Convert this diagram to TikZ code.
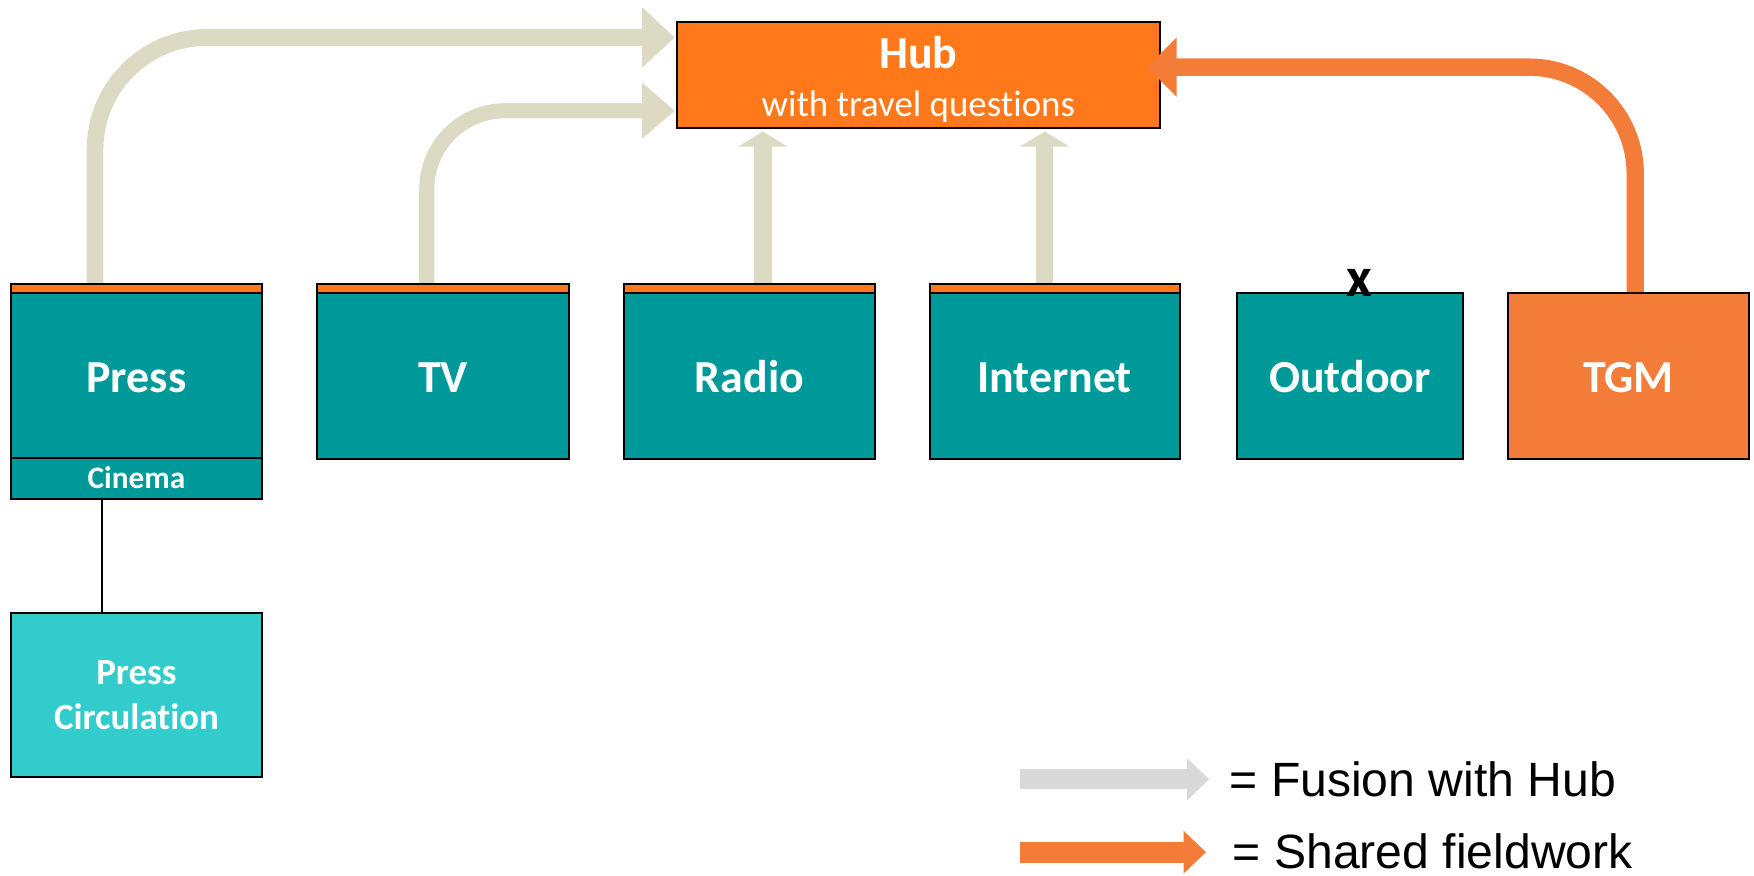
\documentclass[tikz,border=0pt]{standalone}
\usepackage{fontspec}
\setmainfont{Carlito}[Ligatures=NoCommon]
\newfontfamily\legendfont{Liberation Sans}[Ligatures=NoCommon]
\usetikzlibrary{backgrounds,calc}
\definecolor{tealbox}{RGB}{0,153,153}
\definecolor{teallight}{RGB}{51,204,204}
\definecolor{huborange}{RGB}{255,121,26}
\definecolor{tgmorange}{RGB}{242,124,56}
\definecolor{fusebeige}{RGB}{221,218,196}
\definecolor{legendgray}{RGB}{217,217,217}
\tikzset{
  boxbase/.style={draw=black, line width=1.8pt, fill=tealbox, text=white, inner sep=0pt},
  mbox/.style={boxbase, font=\bfseries\fontsize{41}{48}\selectfont, text height=30pt, text depth=0pt},
  stripbox/.style={draw=black, line width=1.8pt, fill=huborange, minimum height=8pt, inner sep=0pt},
  legendtext/.style={anchor=base west, inner sep=0pt, font=\legendfont\fontsize{43}{50}\selectfont},
}
\begin{document}
\begin{tikzpicture}[x=1pt,y=-1pt]
\useasboundingbox (0,0) rectangle (1568,783);

% media boxes
\node[mbox, minimum width=224pt, minimum height=147pt] (press) at (122,335.5) {Press};
\node[stripbox, minimum width=224pt] (pstrip) at (122,258) {};
\node[boxbase, minimum width=224pt, minimum height=37pt, font=\bfseries\fontsize{28}{32}\selectfont, text height=19pt, text depth=0pt] (cinema) at (122,427.5) {Cinema};
\node[boxbase, fill=teallight, minimum width=224pt, minimum height=147pt, align=center, font=\bfseries\fontsize{33}{39.6}\selectfont] (circ) at (122,621.5) {Press\\Circulation};

\node[mbox, minimum width=224.8pt, minimum height=148.5pt] (tv) at (396,336.25) {TV};
\node[stripbox, minimum width=224.8pt] (tvstrip) at (396,258) {};
\node[mbox, minimum width=224pt, minimum height=148.5pt] (radio) at (670,336.25) {Radio};
\node[stripbox, minimum width=224pt] (radiostrip) at (670,258) {};
\node[mbox, minimum width=223.5pt, minimum height=148.5pt] (internet) at (942.8,336.25) {Internet};
\node[stripbox, minimum width=223.5pt] (internetstrip) at (942.8,258) {};
\node[mbox, minimum width=201.5pt, minimum height=148.5pt] (outdoor) at (1206.8,336.25) {Outdoor};
\node[mbox, fill=tgmorange, minimum width=215.5pt, minimum height=148.5pt] (tgm) at (1455.8,336.25) {TGM};

% hub
\node[draw=black, line width=1.8pt, fill=huborange, minimum width=432pt, minimum height=95.3pt, inner sep=0pt] (hub) at (821,67) {};
\node[anchor=base, text=white, inner sep=0pt, font=\bfseries\fontsize{41}{48}\selectfont] (hubtitle) at (821,61) {Hub};
\node[anchor=base, text=white, inner sep=0pt, font=\fontsize{33}{38}\selectfont] (hubsub) at (821,104.3) {with travel questions};

% x mark
\node[anchor=base, inner sep=0pt, font=\bfseries\fontsize{50}{54}\selectfont] (xmark) at (1215,265.5) {x};

% press -> circulation
\draw[line width=1.3pt] ([xshift=-31pt]cinema.south) -- ([xshift=-31pt]circ.north);

% fusion arrows
\begin{scope}[on background layer]
\coordinate (a1s) at ([xshift=-37pt]pstrip.north);
\coordinate (a1t) at ([xshift=-1pt,yshift=33.5pt]hub.west);
\draw[fusebeige, line width=15pt, rounded corners=100pt] (a1s) |- ($(a1t)+(-28,0)$);
\fill[fusebeige] (a1t) -- ++(-29pt,27pt) -- ++(0pt,-54pt) -- cycle;

\coordinate (a2s) at ([xshift=-14.5pt]tvstrip.north);
\coordinate (a2t) at ([xshift=-1pt,yshift=-32pt]hub.west);
\draw[fusebeige, line width=13.5pt, rounded corners=70pt] (a2s) |- ($(a2t)+(-28,0)$);
\fill[fusebeige] (a2t) -- ++(-29pt,25pt) -- ++(0pt,-50pt) -- cycle;

\coordinate (a3s) at ([xshift=12pt]radiostrip.north);
\coordinate (a3t) at ($(a3s |- hub.south)+(0,2)$);
\draw[fusebeige, line width=15.5pt] (a3s) -- ($(a3t)+(0,13)$);
\fill[fusebeige] (a3t) -- ++(-22pt,-13.5pt) -- ++(44pt,0pt) -- cycle;

\coordinate (a4s) at ([xshift=-8.8pt]internetstrip.north);
\coordinate (a4t) at ($(a4s |- hub.south)+(0,2)$);
\draw[fusebeige, line width=15.5pt] (a4s) -- ($(a4t)+(0,13)$);
\fill[fusebeige] (a4t) -- ++(-22pt,-13.5pt) -- ++(44pt,0pt) -- cycle;
\end{scope}

% shared fieldwork arrow
\coordinate (a5s) at ([xshift=6pt]tgm.north);
\coordinate (a5t) at ([xshift=-12.5pt,yshift=7pt]hub.east);
\draw[tgmorange, line width=15.5pt, rounded corners=95pt] (a5s) |- ($(a5t)+(26,0)$);
\fill[tgmorange] (a5t) -- ++(26.5pt,26.5pt) -- ++(0pt,-53pt) -- cycle;

% legend
\draw[legendgray, line width=18pt] (912,696.7) -- (1062,696.7);
\fill[legendgray] (1061,677.7) -- (1081,696.7) -- (1061,715.7) -- cycle;
\draw[tgmorange, line width=19pt] (912,761.8) -- (1059,761.8);
\fill[tgmorange] (1058,742.6) -- (1078,761.8) -- (1058,781) -- cycle;
\node[legendtext] (leg1) at (1099,711.6) {= Fusion with Hub};
\node[legendtext] (leg2) at (1102,776.2) {= Shared fieldwork};
\end{tikzpicture}
\end{document}
